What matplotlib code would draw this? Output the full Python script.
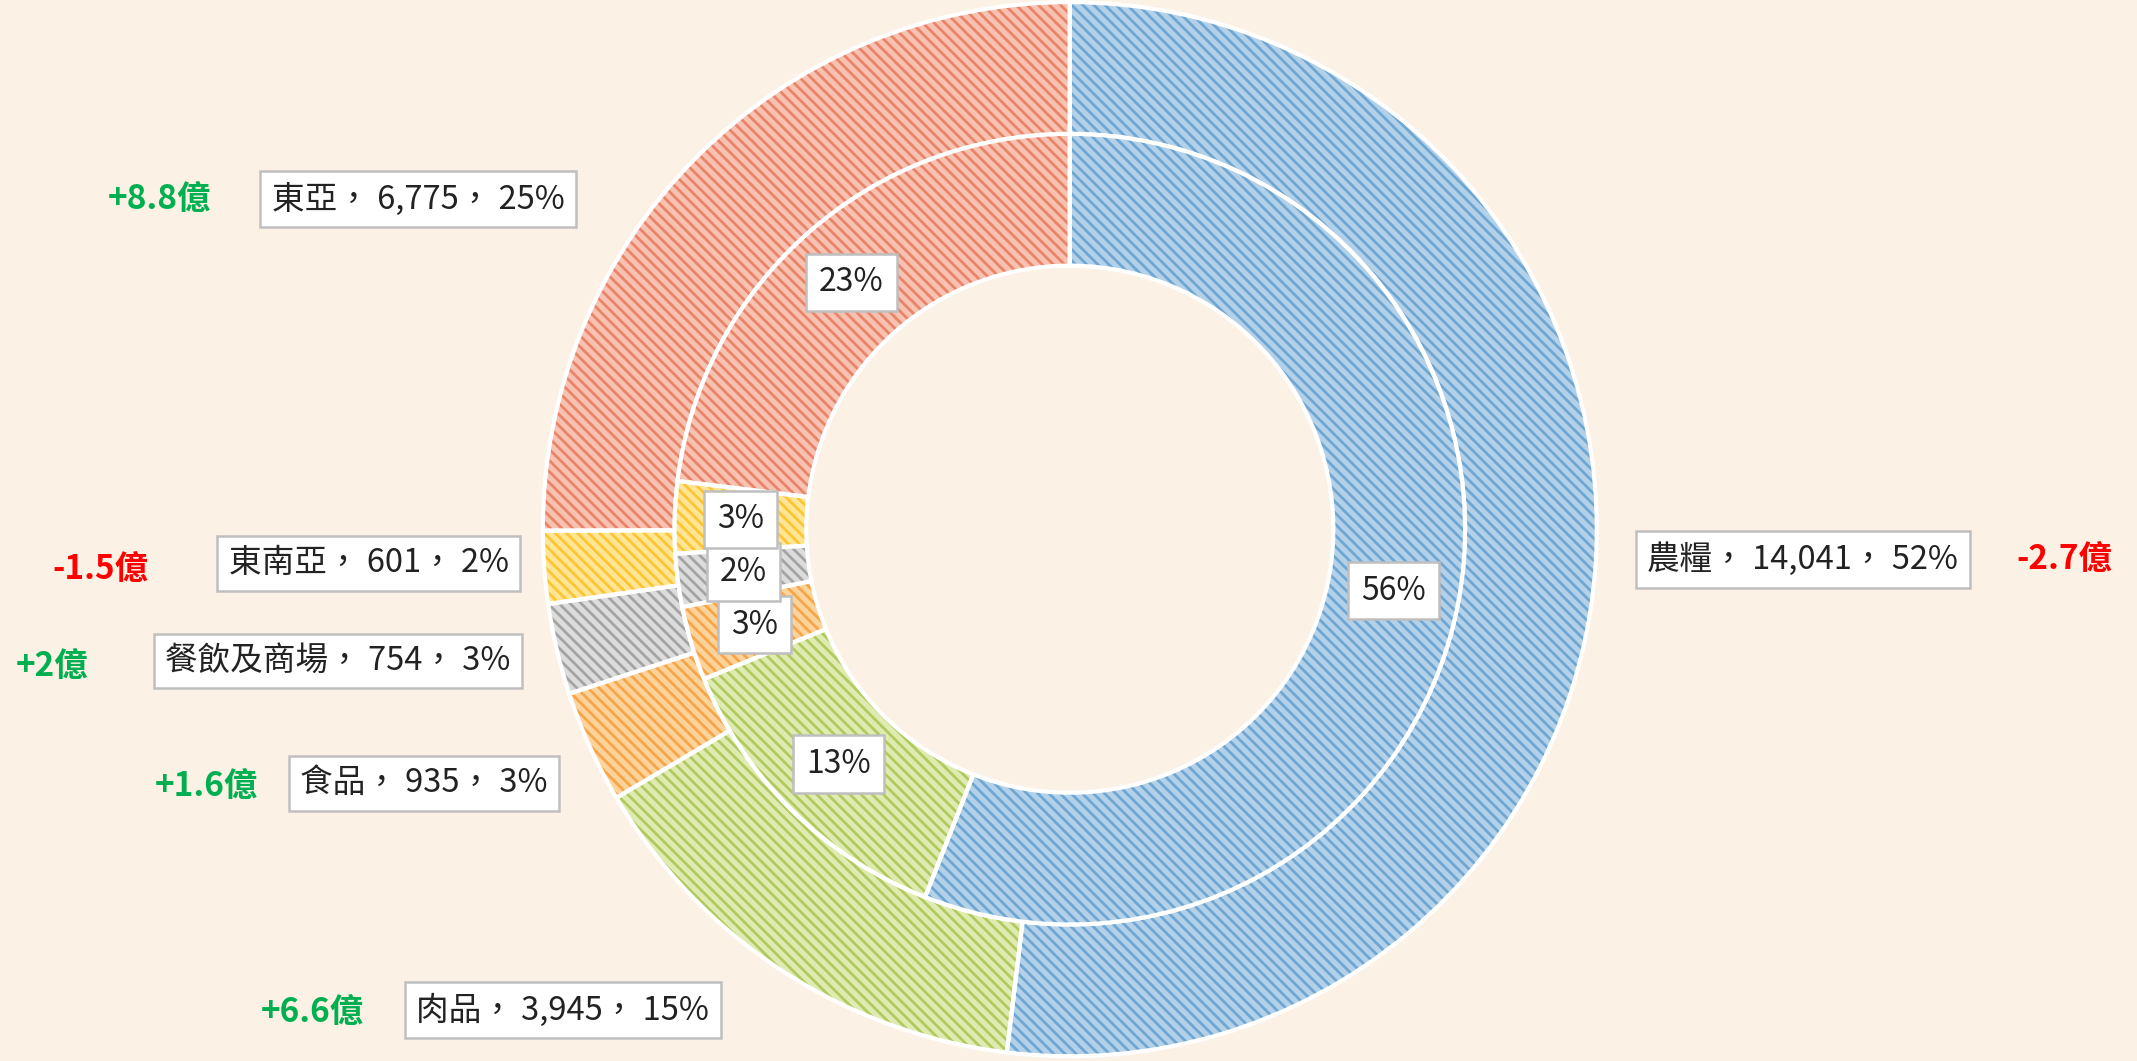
import matplotlib
matplotlib.use("Agg")
import matplotlib.pyplot as plt
import numpy as np

plt.rcParams["font.family"] = ["Noto Sans CJK TC", "DejaVu Sans"]
plt.rcParams["hatch.linewidth"] = 2.0

# current year (outer ring) and previous year (inner ring), in 百萬
categories = ["農糧", "肉品", "食品", "餐飲及商場", "東南亞", "東亞"]
current_values = [14041, 3945, 935, 754, 601, 6775]
previous_values = [14311, 3285, 775, 554, 751, 5895]
changes = [-2.7, 6.6, 1.6, 2, -1.5, 8.8]  # 億

fill_colors = ["#b3d2ea", "#e0ebb2", "#fdd39c", "#dcdcdc", "#ffe594", "#f7c2b1"]
stripe_colors = ["#6fa6d2", "#b1ca60", "#f8a549", "#a4a4a4", "#fdc533", "#ea8468"]

# label positions (data units, outer radius = 1)
label_pos = [(1.391, -0.057), (-0.962, -0.913), (-1.226, -0.482),
             (-1.389, -0.250), (-1.330, -0.065), (-1.237, 0.626)]
change_pos = [(1.888, -0.057), (-1.438, -0.917), (-1.638, -0.488),
              (-1.932, -0.260), (-1.839, -0.076), (-1.727, 0.626)]

BG = "#fcf1e5"
BOX = dict(boxstyle="square,pad=0.35", fc="white", ec="#bfbfbf", lw=1.8)


def draw_ring(ax, values, radius):
    wedges, _ = ax.pie(values, radius=radius, startangle=90, counterclock=False,
                       colors=fill_colors, wedgeprops=dict(width=0.25, linewidth=0))
    for w, sc in zip(wedges, stripe_colors):
        w.set_hatch("\\\\\\")
        w.set_edgecolor(sc)
    # white separators on top
    ax.pie(values, radius=radius, startangle=90, counterclock=False,
           colors=["none"] * len(values),
           wedgeprops=dict(width=0.25, linewidth=3, edgecolor="white"))
    return wedges


def main() -> None:
    fig = plt.figure(figsize=(21.37, 10.61), dpi=100, facecolor=BG)
    ax = fig.add_axes([0, 0, 1, 1])
    ax.set_facecolor(BG)

    draw_ring(ax, current_values, 1.0)
    inner = draw_ring(ax, previous_values, 0.75)

    ax.set_xlim(-2.03, 2.025)
    ax.set_ylim(-1.009, 1.004)
    ax.set_aspect("auto")
    ax.axis("off")

    # inner ring percentages at mid angle
    total_prev = sum(previous_values)
    for w, v in zip(inner, previous_values):
        ang = np.deg2rad((w.theta1 + w.theta2) / 2)
        ax.text(0.625 * np.cos(ang), 0.625 * np.sin(ang), f"{v / total_prev:.0%}",
                ha="center", va="center", fontsize=23, color="#222222",
                bbox=dict(BOX, boxstyle="square,pad=0.4"))

    # outer labels and change amounts
    total_cur = sum(current_values)
    for cat, v, c, lp, cp in zip(categories, current_values, changes, label_pos, change_pos):
        ax.text(lp[0], lp[1], f"{cat}， {v:,}， {v / total_cur:.0%}",
                ha="center", va="center", fontsize=23.5, color="#222222", bbox=BOX)
        ax.text(cp[0], cp[1], f"{c:+g}億", ha="center", va="center", fontsize=24,
                fontweight="bold", color="#ff0000" if c < 0 else "#00b050")

    fig.savefig("out.png", dpi=100, facecolor=BG)
    plt.close(fig)


if __name__ == "__main__":
    main()
